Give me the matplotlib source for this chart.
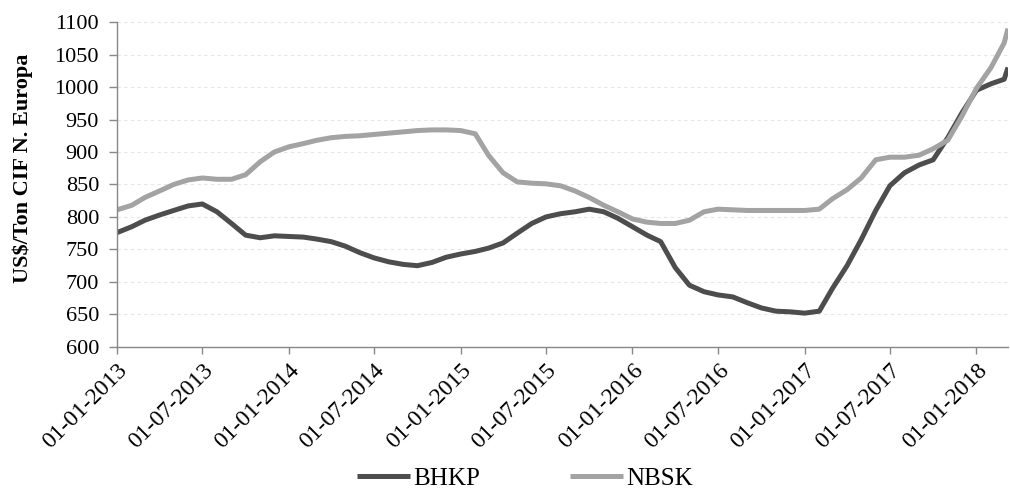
import matplotlib
matplotlib.use("Agg")
import matplotlib.pyplot as plt
import pandas as pd

dates = list(pd.date_range("2013-01-01", "2018-03-01", freq="MS")) + [pd.Timestamp("2018-03-09")]

bhkp = [776, 785, 795, 803, 810, 817, 820, 808, 790, 772, 768, 771,
        770, 769, 766, 762, 755, 745, 737, 731, 727, 725, 730, 738,
        743, 747, 752, 760, 775, 790, 800, 805, 808, 812, 808, 798,
        785, 772, 762, 722, 695, 685, 680, 677, 668, 660, 655, 654,
        652, 655, 690, 725, 765, 810, 848, 868, 880, 888, 922, 960,
        995, 1005, 1012, 1030]

nbsk = [811, 818, 830, 840, 850, 857, 860, 858, 858, 865, 885, 900,
        908, 913, 918, 922, 924, 925, 927, 929, 931, 933, 934, 934,
        933, 928, 895, 868, 854, 852, 851, 848, 840, 830, 818, 808,
        797, 792, 790, 790, 795, 808, 812, 811, 810, 810, 810, 810,
        810, 812, 828, 842, 860, 888, 892, 892, 895, 905, 918, 955,
        998, 1030, 1068, 1090]

tick_dates = pd.date_range("2013-01-01", "2018-01-01", freq="6MS")
tick_labels = [d.strftime("%d-%m-%Y") for d in tick_dates]
yticks = list(range(600, 1101, 50))

plt.rcParams['font.family'] = ['Liberation Serif', 'DejaVu Serif']

fig = plt.figure(figsize=(10.1, 4.9), dpi=100)
ax = fig.add_axes([0.116, 0.292, 0.882, 0.663])

ax.plot(dates, bhkp, color='#4d4d4d', lw=3.6, label='BHKP', solid_capstyle='butt')
ax.plot(dates, nbsk, color='#a3a3a3', lw=3.6, label='NBSK', solid_capstyle='butt')

ax.set_ylim(600, 1100)
ax.set_xlim(pd.Timestamp("2013-01-01"), pd.Timestamp("2018-03-09"))
ax.set_yticks(yticks)
ax.set_yticklabels([str(v) for v in yticks], fontsize=16)
ax.set_xticks(tick_dates)
ax.set_xticklabels(tick_labels, rotation=45, ha='right', rotation_mode='anchor', fontsize=17)

ax.grid(axis='y', color='#e6e6e6', lw=0.8, ls=(0, (3, 3)))
ax.set_axisbelow(True)
for s in ['top', 'right']:
    ax.spines[s].set_visible(False)
for s in ['left', 'bottom']:
    ax.spines[s].set_color('#888888')
    ax.spines[s].set_linewidth(1.0)
ax.tick_params(axis='both', colors='#888888', labelcolor='black', length=5, width=1)
ax.tick_params(axis='y', length=6, pad=7)
ax.tick_params(axis='x', pad=4)

ax.set_ylabel("US$/Ton CIF N. Europa", fontsize=16, fontweight='bold')
ax.yaxis.set_label_coords(-0.094, 0.55)

fig.legend(loc='lower center', bbox_to_anchor=(0.52, -0.045), ncol=2, frameon=False,
           fontsize=18, handlelength=2.1, handletextpad=0.15, columnspacing=3.6)

fig.savefig("out.png", dpi=100)
